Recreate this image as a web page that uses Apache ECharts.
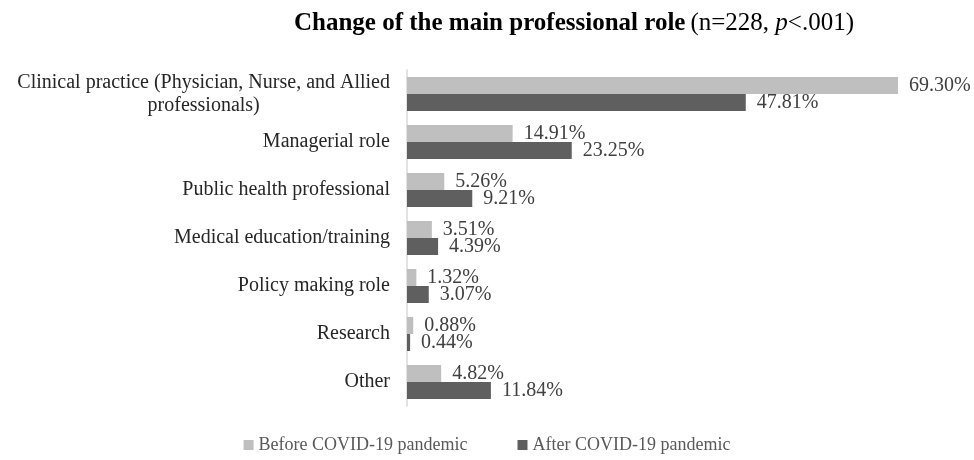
<!DOCTYPE html>
<html>
<head>
<meta charset="utf-8">
<script src="https://cdn.jsdelivr.net/npm/echarts@6/dist/echarts.min.js"></script>
<style>
  html, body { margin: 0; padding: 0; background: #fff; }
  #chart { width: 974px; height: 460px; }
</style>
</head>
<body>
<div id="chart"></div>
<script>
// categories (top to bottom)
const roles = [
  "Clinical practice (Physician, Nurse, and Allied professionals)",
  "Managerial role",
  "Public health professional",
  "Medical education/training",
  "Policy making role",
  "Research",
  "Other"
];
const seriesNames = ["Before COVID-19 pandemic", "After COVID-19 pandemic"];
const beforeValues = [69.30, 14.91, 5.26, 3.51, 1.32, 0.88, 4.82];
const afterValues = [47.81, 23.25, 9.21, 4.39, 3.07, 0.44, 11.84];

const serif = "'Liberation Serif', 'DejaVu Serif', serif";

const chart = echarts.init(document.getElementById("chart"));

function makeSeries(name, data, color) {
  return {
    name: name,
    type: "bar",
    data: data,
    barWidth: 17,
    barGap: "0%",
    itemStyle: { color: color },
    label: {
      show: true,
      position: "right",
      distance: 11,
      fontFamily: serif,
      fontSize: 20,
      color: "#404040",
      formatter: function (p) {
        return p.value.toFixed(2) + "%";
      }
    },
    animation: false
  };
}

chart.setOption({
  backgroundColor: "#fff",
  title: {
    text: "{b|Change of the main professional role} {n|(n=228, }{i|p}{n|<.001)}",
    left: 569,
    top: 6,
    textAlign: "center",
    textStyle: {
      rich: {
        b: { fontFamily: serif, fontSize: 25, fontWeight: "bold", color: "#000" },
        n: { fontFamily: serif, fontSize: 25, fontWeight: "normal", color: "#000" },
        i: { fontFamily: serif, fontSize: 25, fontWeight: "normal", fontStyle: "italic", color: "#000" }
      }
    }
  },
  legend: {
    bottom: 1,
    left: "center",
    itemWidth: 10,
    itemHeight: 10,
    itemGap: 50,
    icon: "rect",
    textStyle: { fontFamily: serif, fontSize: 18, color: "#595959" },
    data: seriesNames
  },
  grid: {
    left: 407,
    top: 70,
    width: 496,
    height: 336,
    containLabel: false
  },
  xAxis: {
    type: "value",
    min: 0,
    max: 70,
    show: false
  },
  yAxis: {
    type: "category",
    data: roles,
    inverse: true,
    axisLine: { show: true, lineStyle: { color: "#d9d9d9", width: 1.5 } },
    axisTick: { show: false },
    axisLabel: {
      margin: 17,
      fontFamily: serif,
      fontSize: 20,
      color: "#262626",
      lineHeight: 23,
      formatter: function (value) {
        if (value.indexOf("Clinical") === 0) {
          return "Clinical practice (Physician, Nurse, and Allied\n{c|professionals)}";
        }
        return value;
      },
      rich: {
        c: { align: "center", fontFamily: serif, fontSize: 20, color: "#262626", lineHeight: 23 }
      }
    }
  },
  series: [
    makeSeries(seriesNames[0], beforeValues, "#bfbfbf"),
    makeSeries(seriesNames[1], afterValues, "#5f5f5f")
  ]
});
</script>
</body>
</html>
